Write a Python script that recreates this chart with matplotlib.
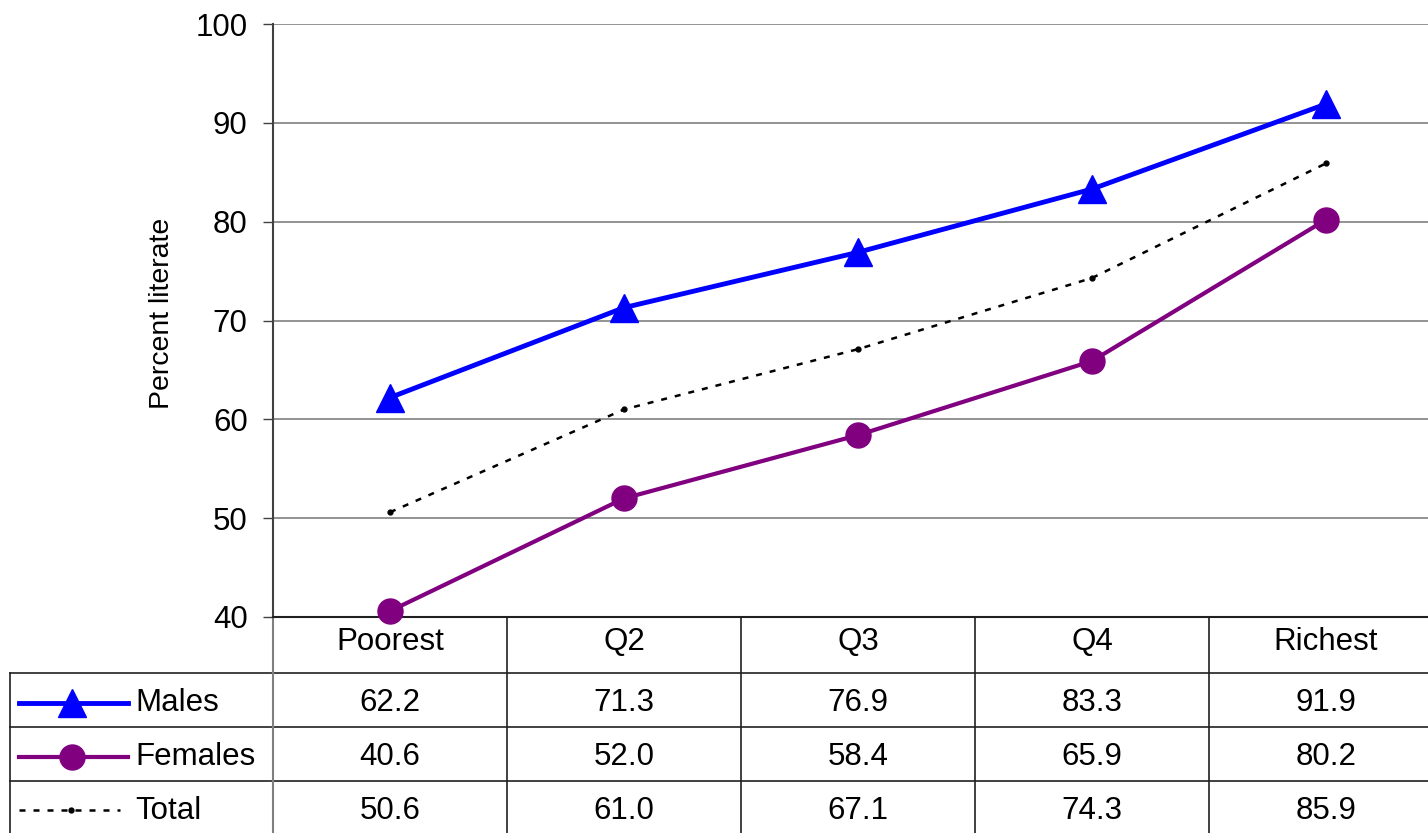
import matplotlib
matplotlib.use("Agg")
import matplotlib.pyplot as plt
import matplotlib.transforms as mtransforms
from matplotlib.lines import Line2D

categories = ["Poorest", "Q2", "Q3", "Q4", "Richest"]
males = [62.2, 71.3, 76.9, 83.3, 91.9]
females = [40.6, 52.0, 58.4, 65.9, 80.2]
total = [50.6, 61.0, 67.1, 74.3, 85.9]
yticks = [40, 50, 60, 70, 80, 90, 100]

plt.rcParams['font.family'] = ['Liberation Sans', 'DejaVu Sans']

W, H = 1428, 833
fig = plt.figure(figsize=(W / 100, H / 100), dpi=100)

FS = 22.5

# pixel geometry
ax_left, ax_right, ax_top, ax_bottom = 273, 1443, 24, 617
ax = fig.add_axes([ax_left / W, (H - ax_bottom) / H,
                   (ax_right - ax_left) / W, (ax_bottom - ax_top) / H])
x = list(range(len(categories)))
ax.set_xlim(-0.5, len(categories) - 0.5)
ax.set_ylim(40, 100)

blue = "#0000FF"
purple = "#800080"
dash = (0, (2.4, 3.2))
ax.plot(x, total, color="black", lw=1.8, linestyle=dash, marker="o", ms=3.5,
        zorder=3, clip_on=False)
ax.plot(x, females, color=purple, lw=3.0, marker="o", ms=18, zorder=4, clip_on=False)
ax.plot(x, males, color=blue, lw=3.5, marker="^", ms=20, zorder=5, clip_on=False)

ax.set_yticks(yticks)
ax.set_yticklabels([str(v) for v in yticks], fontsize=FS)
ax.tick_params(axis="y", length=7.2, width=1, color="#404040", pad=11)
ax.set_xticks([])
for v in yticks[1:]:
    ax.axhline(v, color="#808080", lw=1.2, zorder=1)
for s in ["top", "right"]:
    ax.spines[s].set_visible(False)
ax.spines["left"].set_color("#404040")
ax.spines["left"].set_linewidth(1.5)
ax.spines["bottom"].set_color("#202020")
ax.spines["bottom"].set_linewidth(1.5)

# overlay for table in pixel coordinates
ov = fig.add_axes([0, 0, 1, 1])
ov.set_xlim(0, W)
ov.set_ylim(H, 0)
ov.axis("off")
ov.set_zorder(-1)
bt = mtransforms.blended_transform_factory(ax.transData, ov.transData)

ov.text(162, 313, "Percent literate", rotation=90, ha="center", va="center", fontsize=20.5)

dark = "#202020"
for yy in [673, 727, 781]:
    ov.plot([10, W], [yy, yy], color=dark, lw=1.2)
ov.plot([10, 10], [673, H], color=dark, lw=1.2)
ov.plot([273, 273], [ax_bottom, H], color="#808080", lw=1.5)
for b in [0.5, 1.5, 2.5, 3.5]:
    ov.plot([b, b], [ax_bottom, H], color=dark, lw=1.2, transform=bt)

for i, c in enumerate(categories):
    ov.text(i, 642, c, ha="center", va="center", fontsize=FS, transform=bt)

rows = [("Males", males, 703), ("Females", females, 757), ("Total", total, 811)]
for name, vals, yy in rows:
    ov.text(135, yy, name, ha="left", va="center", fontsize=FS)
    for i, v in enumerate(vals):
        ov.text(i, yy, f"{v:.1f}", ha="center", va="center", fontsize=FS, transform=bt)

ov.add_line(Line2D([19, 128], [703, 703], color=blue, lw=3.5))
ov.add_line(Line2D([72], [703], color=blue, marker="^", ms=20, lw=0))
ov.add_line(Line2D([19, 128], [757, 757], color=purple, lw=3.0))
ov.add_line(Line2D([72], [757], color=purple, marker="o", ms=18, lw=0))
ov.add_line(Line2D([19, 120], [810, 810], color="black", lw=1.8, linestyle=dash))
ov.add_line(Line2D([71], [810], color="black", marker="o", ms=3.5, lw=0))

fig.savefig("out.png", dpi=100)
